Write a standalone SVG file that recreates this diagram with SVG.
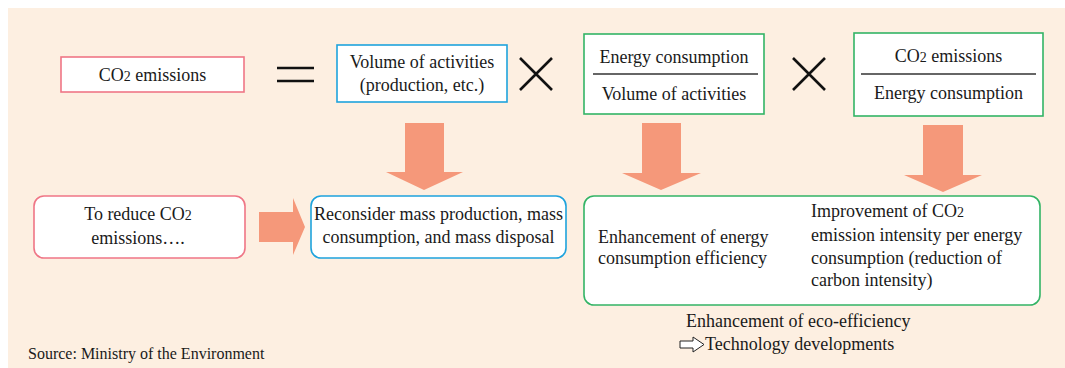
<svg xmlns="http://www.w3.org/2000/svg" width="1065" height="368" viewBox="0 0 1065 368">
<defs>
<style>
.t{font-family:'Liberation Serif','DejaVu Serif',serif;font-size:18px;fill:#1a1a1a}
.s{font-size:14px}
.bx{fill:#fff;stroke-width:1.6}
.pk{stroke:#ef7686}
.bl{stroke:#1ea3dd}
.gr{stroke:#33b466}
.ar{fill:#f5987a}
.op{stroke:#111;stroke-width:2.6;fill:none}
.fr{stroke:#333;stroke-width:1.5}
</style>
</defs>
<rect x="0" y="0" width="1065" height="368" fill="#fff"/>
<rect x="8" y="8" width="1057" height="360" fill="#fdefe1"/>
<g id="operators">
<line class="op" x1="277" y1="68" x2="314" y2="68"/>
<line class="op" x1="277" y1="81" x2="314" y2="81"/>
<path class="op" d="M520 58 L552 90 M552 58 L520 90"/>
<path class="op" d="M793 58 L825 90 M825 58 L793 90"/>
</g>
<g id="co2-emissions">
<rect class="bx pk" x="61" y="57" width="183" height="35"/>
<text class="t" x="152.5" y="81" text-anchor="middle">CO<tspan class="s">2</tspan> emissions</text>
</g>
<g id="volume-activities">
<rect class="bx bl" x="337" y="45" width="170" height="57"/>
<text class="t" x="422" y="68" text-anchor="middle">Volume of activities</text>
<text class="t" x="422" y="91" text-anchor="middle">(production, etc.)</text>
</g>
<g id="energy-per-volume">
<rect class="bx gr" x="584" y="34" width="180" height="80"/>
<text class="t" x="674" y="63" text-anchor="middle">Energy consumption</text>
<line class="fr" x1="593" y1="74" x2="758" y2="74"/>
<text class="t" x="674" y="100" text-anchor="middle">Volume of activities</text>
</g>
<g id="co2-per-energy">
<rect class="bx gr" x="854" y="33" width="189" height="83"/>
<text class="t" x="948.5" y="62" text-anchor="middle">CO<tspan class="s">2</tspan> emissions</text>
<line class="fr" x1="861" y1="74" x2="1036" y2="74"/>
<text class="t" x="948.5" y="99" text-anchor="middle">Energy consumption</text>
</g>
<g id="connectors">
<polygon class="ar" points="405,123 444,123 444,172 463,172 424,190 386,172 405,172"/>
<polygon class="ar" points="642,123 681,123 681,173 701,173 661,190 622,173 642,173"/>
<polygon class="ar" points="923,125 963,125 963,175 982,175 943,192 904,175 923,175"/>
<polygon class="ar" points="259,212 293,212 293,198 305,227 293,255 293,242 259,242"/>
</g>
<g id="to-reduce">
<rect class="bx pk" x="34" y="196" width="211" height="62" rx="10"/>
<text class="t" x="138" y="220" text-anchor="middle">To reduce CO<tspan class="s">2</tspan></text>
<text class="t" x="138" y="244" text-anchor="middle">emissions….</text>
</g>
<g id="reconsider">
<rect class="bx bl" x="311" y="196" width="255" height="62" rx="10"/>
<text class="t" x="438.5" y="220" text-anchor="middle">Reconsider mass production, mass</text>
<text class="t" x="438.5" y="243" text-anchor="middle">consumption, and mass disposal</text>
</g>
<g id="efficiency">
<rect class="bx gr" x="584" y="196" width="456" height="109" rx="10"/>
<text class="t" x="598" y="243">Enhancement of energy</text>
<text class="t" x="598" y="264">consumption efficiency</text>
<text class="t" x="811" y="217">Improvement of CO<tspan class="s">2</tspan></text>
<text class="t" x="811" y="240.5">emission intensity per energy</text>
<text class="t" x="811" y="263.5">consumption (reduction of</text>
<text class="t" x="811" y="286">carbon intensity)</text>
</g>
<g id="caption">
<text class="t" x="686" y="327">Enhancement of eco-efficiency</text>
<polygon points="680,341 693,341 693,337 704,344.5 693,352 693,348 680,348" fill="#fff" stroke="#222" stroke-width="1"/>
<text class="t" x="705" y="350">Technology developments</text>
</g>
<g id="source">
<text class="t" x="28" y="359" style="font-size:16px">Source: Ministry of the Environment</text>
</g>
</svg>
